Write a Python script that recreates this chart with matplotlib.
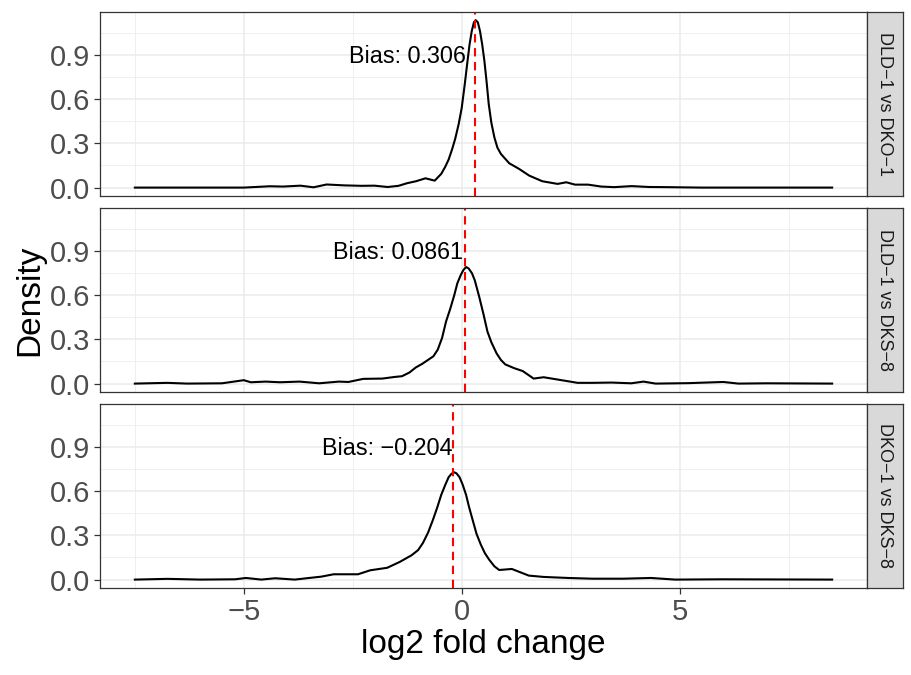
import numpy as np
import matplotlib
matplotlib.use("Agg")
from matplotlib import pyplot as plt
from matplotlib.ticker import MultipleLocator

plt.rcParams['font.family'] = ['Liberation Sans', 'DejaVu Sans']

# facet labels and bias values
comparisons = ["DLD\u22121 vs DKO\u22121", "DLD\u22121 vs DKS\u22128", "DKO\u22121 vs DKS\u22128"]
biases = [0.306, 0.0861, -0.204]
label_x = [0.09, 0.02, -0.22]   # where the right edge of each label sits

# density curves
x1 = [-7.5, -5.0, -4.6, -4.4, -4.1, -3.7, -3.4, -3.1, -2.7, -2.3, -2.0, -1.7, -1.45, -1.25,
      -1.05, -0.83, -0.62, -0.47, -0.38, -0.3, -0.22, -0.15, -0.07, 0.0, 0.07, 0.13, 0.18, 0.23,
      0.28, 0.32, 0.37, 0.42, 0.47, 0.52, 0.57, 0.62, 0.68, 0.75, 0.82,
      0.9, 1.09, 1.32, 1.55, 1.85, 2.2, 2.4, 2.6, 2.9, 3.2, 3.5, 3.9, 4.3, 4.7, 5.5, 8.5]
y1 = [0.0, 0.0, 0.006, 0.009, 0.007, 0.013, 0.002, 0.021, 0.015, 0.012, 0.013, 0.004, 0.012, 0.03,
      0.043, 0.063, 0.047, 0.093, 0.14, 0.19, 0.26, 0.33, 0.43, 0.54, 0.70, 0.85, 0.97, 1.06,
      1.12, 1.135, 1.12, 1.06, 0.97, 0.86, 0.72, 0.566, 0.44, 0.34, 0.27,
      0.228, 0.165, 0.126, 0.081, 0.043, 0.025, 0.036, 0.02, 0.02, 0.007, 0.003, 0.01, 0.004, 0.003, 0.0, 0.0]

x2 = [-7.5, -6.75, -6.3, -5.5, -5.0, -4.84, -4.5, -4.17, -3.72, -3.27, -2.82, -2.6, -2.26, -1.82,
      -1.54, -1.37, -1.2, -1.05, -0.9, -0.8, -0.65, -0.55, -0.45, -0.36, -0.26, -0.17, -0.1, -0.02,
      0.04, 0.1, 0.16, 0.235, 0.3, 0.4, 0.5, 0.59, 0.68, 0.8, 0.9, 1.0, 1.2,
      1.4, 1.65, 1.88, 2.21, 2.66, 3.0, 3.44, 3.89, 4.17, 4.45, 5.2, 6.0, 6.35, 7.0, 8.5]
y2 = [0.0, 0.005, 0.0, 0.002, 0.023, 0.009, 0.0135, 0.009, 0.0135, 0.002, 0.0135, 0.011, 0.032, 0.034,
      0.045, 0.05, 0.075, 0.11, 0.135, 0.155, 0.185, 0.23, 0.31, 0.42, 0.51, 0.60, 0.68, 0.737,
      0.77, 0.79, 0.78, 0.748, 0.70, 0.59, 0.47, 0.353, 0.28, 0.205, 0.16, 0.13, 0.105,
      0.085, 0.034, 0.043, 0.027, 0.005, 0.005, 0.007, 0.002, 0.0135, 0.0, 0.003, 0.011, 0.0, 0.002, 0.0]

x3 = [-7.5, -6.75, -6.0, -5.2, -4.95, -4.6, -4.28, -3.83, -3.5, -3.22, -2.94, -2.38, -2.1, -1.71,
      -1.42, -1.15, -1.0, -0.89, -0.77, -0.66, -0.56, -0.47, -0.38, -0.30, -0.24, -0.18, -0.12,
      -0.05, 0.02, 0.10, 0.17, 0.25, 0.34, 0.44, 0.53, 0.63, 0.75, 0.86, 1.15,
      1.54, 1.88, 2.44, 3.0, 3.7, 4.34, 4.9, 6.0, 8.5]
y3 = [0.0, 0.005, 0.0, 0.002, 0.011, 0.0, 0.009, 0.0, 0.011, 0.02, 0.036, 0.036, 0.063, 0.08,
      0.12, 0.165, 0.2, 0.248, 0.32, 0.405, 0.49, 0.574, 0.64, 0.694, 0.715, 0.728, 0.72,
      0.694, 0.645, 0.574, 0.49, 0.405, 0.31, 0.236, 0.18, 0.135, 0.09, 0.065, 0.072,
      0.027, 0.018, 0.011, 0.006, 0.006, 0.011, 0.0, 0.002, 0.0]

curves = [(x1, y1), (x2, y2), (x3, y3)]

W, H = 912, 675
fig = plt.figure(figsize=(W / 100, H / 100), dpi=100)

left, right = 100, 867
strip_w = 36
tops = [12, 208, 404]
ph = 184
grey20 = '#333333'

for i, (xs, ys) in enumerate(curves):
    top = tops[i]
    ax = fig.add_axes([left / W, 1 - (top + ph) / H, (right - left) / W, ph / H])
    ax.set_xlim(-8.3, 9.3)
    ax.set_ylim(-0.057, 1.19)
    ax.xaxis.set_major_locator(MultipleLocator(5))
    ax.xaxis.set_minor_locator(MultipleLocator(2.5))
    ax.yaxis.set_major_locator(MultipleLocator(0.3))
    ax.yaxis.set_minor_locator(MultipleLocator(0.15))
    ax.grid(which='major', color='#EBEBEB', lw=1.1)
    ax.grid(which='minor', color='#EBEBEB', lw=0.55)
    ax.set_axisbelow(True)
    ax.tick_params(which='minor', length=0)
    ax.tick_params(which='major', length=4, width=0.9, color=grey20,
                   labelsize=21, labelcolor='#4D4D4D', pad=3)
    for s in ax.spines.values():
        s.set_color(grey20)
        s.set_linewidth(0.9)
    ax.set_yticks([0.0, 0.3, 0.6, 0.9])
    ax.set_yticklabels(['0.0', '0.3', '0.6', '0.9'])
    if i < 2:
        ax.tick_params(axis='x', labelbottom=False, length=0)
    ax.plot(xs, ys, color='black', lw=1.5, solid_joinstyle='round')
    ax.axvline(biases[i], color='#FF0000', lw=1.5, ls=(0, (4, 2.7)))
    lab = ('Bias: %s' % biases[i]).replace('-', '\u2212')
    ax.text(label_x[i], 0.89, lab, ha='right', va='center', fontsize=16.8, color='black')

    # facet strip
    sax = fig.add_axes([right / W, 1 - (top + ph) / H, strip_w / W, ph / H])
    sax.set_facecolor('#D9D9D9')
    sax.set_xticks([])
    sax.set_yticks([])
    for s in sax.spines.values():
        s.set_color(grey20)
        s.set_linewidth(0.9)
    sax.text(0.5, 0.5, comparisons[i], rotation=-90, ha='center', va='center',
             fontsize=13, color='#1A1A1A', transform=sax.transAxes)

fig.text(30 / W, 1 - 300 / H, 'Density', rotation=90, ha='center', va='center', fontsize=24)
fig.text((left + right) / 2 / W, 1 - 645 / H, 'log2 fold change', ha='center', va='center', fontsize=24)

fig.savefig('out.png', dpi=100)
